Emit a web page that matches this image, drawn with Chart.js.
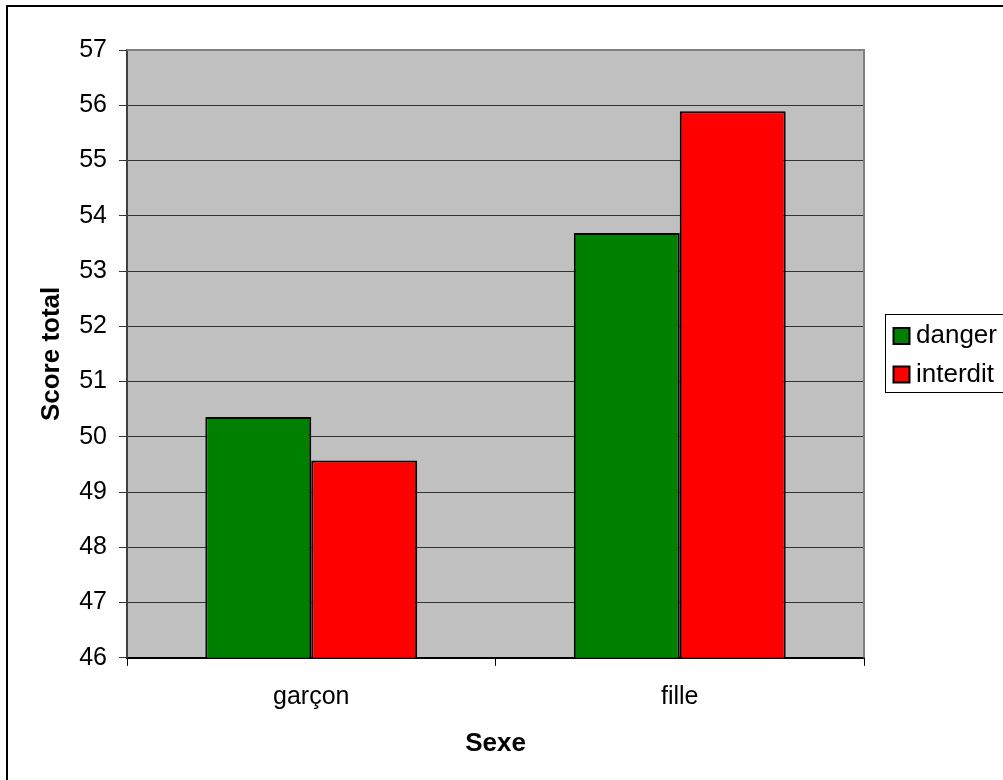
<!DOCTYPE html>
<html>
<head>
<meta charset="utf-8">
<script src="https://cdn.jsdelivr.net/npm/chart.js@4/dist/chart.umd.min.js"></script>
<style>
html,body{margin:0;padding:0;background:#fff;}
canvas{display:block;}
</style>
</head>
<body>
<canvas id="c" width="1003" height="780"></canvas>
<script>
const categories = ["garçon", "fille"];
const dangerValues = [50.36, 53.69];
const interditValues = [49.57, 55.89];
const seriesNames = ["danger", "interdit"];
const seriesColors = ["#008000", "#FF0000"];
const yMin = 46, yMax = 57, yStep = 1;
const FONT = "'Liberation Sans', Arial, sans-serif";

const bgPlugin = {
  id: 'plotBg',
  beforeDraw(chart) {
    const {ctx, chartArea: a} = chart;
    ctx.save();
    ctx.fillStyle = '#C0C0C0';
    ctx.fillRect(a.left, a.top, a.right - a.left, a.bottom - a.top);
    ctx.restore();
  },
  afterDraw(chart) {
    const {ctx, chartArea: a} = chart;
    ctx.save();
    ctx.strokeStyle = '#808080';
    ctx.lineWidth = 2;
    ctx.beginPath();
    ctx.moveTo(a.left, a.top);
    ctx.lineTo(a.right, a.top);
    ctx.lineTo(a.right, a.bottom);
    ctx.stroke();
    ctx.strokeStyle = '#000';
    ctx.lineWidth = 2;
    ctx.beginPath();
    ctx.moveTo(7, 790);
    ctx.lineTo(7, 6);
    ctx.lineTo(1010, 6);
    ctx.stroke();
    ctx.lineWidth = 1;
    ctx.strokeStyle = '#000';
    ctx.strokeRect(885.5, 314.5, 130, 78);
    ctx.font = '26px ' + FONT;
    ctx.textBaseline = 'middle';
    ctx.textAlign = 'left';
    chart.data.datasets.forEach((ds, i) => {
      const cy = 336 + i * 38.5;
      ctx.fillStyle = ds.backgroundColor;
      ctx.fillRect(893.5, cy - 8, 16, 16);
      ctx.lineWidth = 2;
      ctx.strokeStyle = '#000';
      ctx.strokeRect(893.5, cy - 8, 16, 16);
      ctx.fillStyle = '#000';
      ctx.fillText(ds.label, 916, cy);
    });
    ctx.restore();
  }
};

new Chart(document.getElementById('c'), {
  type: 'bar',
  data: {
    labels: categories,
    datasets: [
      {label: seriesNames[0], data: dangerValues, backgroundColor: seriesColors[0], borderColor: '#000', borderWidth: 2, borderSkipped: false},
      {label: seriesNames[1], data: interditValues, backgroundColor: seriesColors[1], borderColor: '#000', borderWidth: 2, borderSkipped: false}
    ]
  },
  options: {
    responsive: false,
    devicePixelRatio: 1,
    animation: false,
    layout: {padding: {left: 36, top: 50, right: 139, bottom: 21}},
    plugins: {legend: {display: false}, tooltip: {enabled: false}},
    datasets: {bar: {barPercentage: 1, categoryPercentage: 0.575}},
    scales: {
      x: {
        offset: true,
        grid: {display: true, offset: true, drawOnChartArea: false, drawTicks: true, tickLength: 8, color: '#000', lineWidth: 1},
        border: {display: true, color: '#000', width: 2},
        ticks: {font: {family: FONT, size: 25}, color: '#000', padding: 16},
        title: {display: true, text: 'Sexe', font: {family: FONT, size: 26, weight: 'bold'}, color: '#000', padding: {top: 0, bottom: 0}}
      },
      y: {
        min: yMin, max: yMax,
        grid: {color: '#333', lineWidth: 1, tickLength: 8},
        border: {display: true, color: '#404040', width: 2},
        ticks: {stepSize: yStep, font: {family: FONT, size: 25}, color: '#000', padding: 12},
        title: {display: true, text: 'Score total', font: {family: FONT, size: 26, weight: 'bold'}, color: '#000', padding: {top: 0, bottom: 0}}
      }
    }
  },
  plugins: [bgPlugin]
});
</script>
</body>
</html>
